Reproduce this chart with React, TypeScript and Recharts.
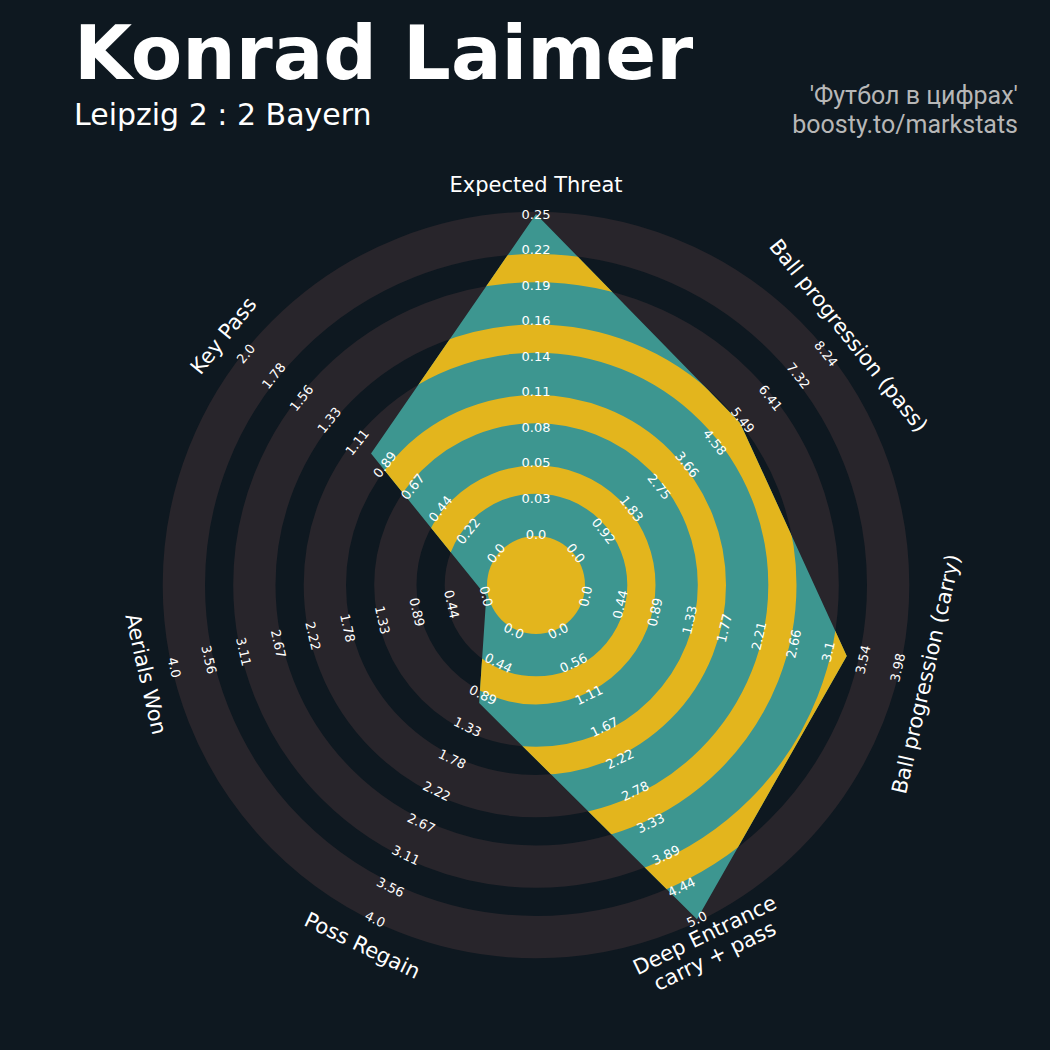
import React from "react";
import { RadarChart, Radar, PolarAngleAxis, PolarRadiusAxis } from "recharts";

const params = [
  "Expected Threat",
  "Ball progression (pass)",
  "Ball progression (carry)",
  "Deep Entrance\ncarry + pass",
  "Poss Regain",
  "Aerials Won",
  "Key Pass",
];
const lowRange = [0, 0, 0, 0, 0, 0, 0];
const highRange = [0.25, 8.24, 3.98, 5.0, 4.0, 4.0, 2.0];
const playerValues = [0.25, 5.4, 3.33, 5.0, 1.0, 0.0, 1.0];

const tickLabels = [
  ["0.0", "0.03", "0.05", "0.08", "0.11", "0.14", "0.16", "0.19", "0.22", "0.25"],
  ["0.0", "0.92", "1.83", "2.75", "3.66", "4.58", "5.49", "6.41", "7.32", "8.24"],
  ["0.0", "0.44", "0.89", "1.33", "1.77", "2.21", "2.66", "3.1", "3.54", "3.98"],
  ["0.0", "0.56", "1.11", "1.67", "2.22", "2.78", "3.33", "3.89", "4.44", "5.0"],
  ["0.0", "0.44", "0.89", "1.33", "1.78", "2.22", "2.67", "3.11", "3.56", "4.0"],
  ["0.0", "0.44", "0.89", "1.33", "1.78", "2.22", "2.67", "3.11", "3.56", "4.0"],
  ["0.0", "0.22", "0.44", "0.67", "0.89", "1.11", "1.33", "1.56", "1.78", "2.0"],
];

const BG = "#0e1820";
const RING = "#28252b";
const TEAL = "#3d9690";
const GOLD = "#e3b51d";
const FONT = "DejaVu Sans, sans-serif";

const CX = 536;
const CY = 585;
const CENTER_R = 49;
const RING_W = 42.3;
const GAP_W = 28.2;
const NUM_RINGS = 5;
const LABEL_R = 400;

const chartData = params.map((p, i) => ({
  param: p,
  value: (playerValues[i] - lowRange[i]) / (highRange[i] - lowRange[i]),
}));
const tickValues = tickLabels[0].map((_, k) => k / (tickLabels[0].length - 1));

// bearing clockwise from top, flipped so text never reads upside down
const bearing = (i: number) => (i * 360) / params.length;
const textRot = (b: number) => (b > 90 && b < 270 ? b - 180 : b);

function RadarShape(props: any) {
  const { points } = props;
  const cx = points[0]?.cx ?? CX;
  const cy = points[0]?.cy ?? CY;
  const poly = points.map((p: any) => `${p.x},${p.y}`).join(" ");
  const rings = Array.from({ length: NUM_RINGS }, (_, k) => CENTER_R + k * (RING_W + GAP_W) + RING_W / 2);
  const gaps = Array.from({ length: NUM_RINGS - 1 }, (_, k) => CENTER_R + RING_W + k * (RING_W + GAP_W) + GAP_W / 2);
  return (
    <g>
      {rings.map((r, k) => (
        <circle key={`bg${k}`} cx={cx} cy={cy} r={r} fill="none" stroke={RING} strokeWidth={RING_W} />
      ))}
      <defs>
        <clipPath id="radar-clip">
          <polygon points={poly} />
        </clipPath>
      </defs>
      <polygon points={poly} fill={TEAL} />
      <g clipPath="url(#radar-clip)">
        <circle cx={cx} cy={cy} r={CENTER_R} fill={GOLD} />
        {gaps.map((r, k) => (
          <circle key={`g${k}`} cx={cx} cy={cy} r={r} fill="none" stroke={GOLD} strokeWidth={GAP_W} />
        ))}
      </g>
    </g>
  );
}

function makeRangeTick(i: number) {
  const rot = textRot(bearing(i));
  return (props: any) => {
    const { x, y, payload } = props;
    const k = Math.round(payload.value * (tickLabels[i].length - 1));
    return (
      <text
        x={x}
        y={y}
        dy="0.35em"
        textAnchor="middle"
        fill="#ffffff"
        fontSize={13}
        fontFamily={FONT}
        transform={`rotate(${rot}, ${x}, ${y})`}
      >
        {tickLabels[i][k]}
      </text>
    );
  };
}

function ParamTick(props: any) {
  const { x, y, payload } = props;
  const cx = props.cx ?? CX;
  const cy = props.cy ?? CY;
  const i = params.indexOf(payload.value);
  const dx = x - cx;
  const dy = y - cy;
  const d = Math.sqrt(dx * dx + dy * dy) || 1;
  const px = cx + (dx / d) * LABEL_R;
  const py = cy + (dy / d) * LABEL_R;
  const rot = textRot(bearing(i));
  const lines = String(payload.value).split("\n");
  const lh = 1.1;
  return (
    <text
      x={px}
      y={py}
      textAnchor="middle"
      fill="#ffffff"
      fontSize={21}
      fontFamily={FONT}
      transform={`rotate(${rot}, ${px}, ${py})`}
    >
      {lines.map((ln, j) => (
        <tspan key={j} x={px} dy={j === 0 ? `${0.35 - ((lines.length - 1) * lh) / 2}em` : `${lh}em`}>
          {ln}
        </tspan>
      ))}
    </text>
  );
}

export default function App() {
  return (
    <div style={{ position: "absolute", left: 0, top: 0, width: 1050, height: 1050, background: BG }}>
      <RadarChart
        width={1050}
        height={1050}
        data={chartData}
        cx={CX}
        cy={CY}
        innerRadius={51}
        outerRadius={371}
        startAngle={90}
        endAngle={-270}
        margin={{ top: 0, right: 0, bottom: 0, left: 0 }}
      >
        <PolarRadiusAxis radiusAxisId={0} domain={[0, 1]} type="number" tick={false} axisLine={false} allowDataOverflow />
        <Radar dataKey="value" radiusAxisId={0} isAnimationActive={false} shape={RadarShape} />
        <PolarAngleAxis dataKey="param" tick={ParamTick} axisLine={false} tickLine={false} />
        {params.map((_, i) => (
          <PolarRadiusAxis
            key={i}
            radiusAxisId={`t${i}`}
            angle={90 - bearing(i)}
            domain={[0, 1]}
            type="number"
            ticks={tickValues}
            tick={makeRangeTick(i)}
            axisLine={false}
            allowDataOverflow
          />
        ))}
      </RadarChart>
      <svg width={1050} height={160} style={{ position: "absolute", left: 0, top: 0, pointerEvents: "none" }}>
        <text x={74} y={79} fill="#ffffff" fontSize={75} fontWeight="bold" fontFamily={FONT}>
          Konrad Laimer
        </text>
        <text x={74} y={125} fill="#ffffff" fontSize={30} fontFamily={FONT}>
          Leipzig 2 : 2 Bayern
        </text>
        <text x={1018} y={104} fill="#b7b7b7" fontSize={25} fontFamily="Roboto, sans-serif" textAnchor="end">
          'Футбол в цифрах'
        </text>
        <text x={1018} y={133} fill="#b7b7b7" fontSize={25} fontFamily="Roboto, sans-serif" textAnchor="end">
          boosty.to/markstats
        </text>
      </svg>
    </div>
  );
}
